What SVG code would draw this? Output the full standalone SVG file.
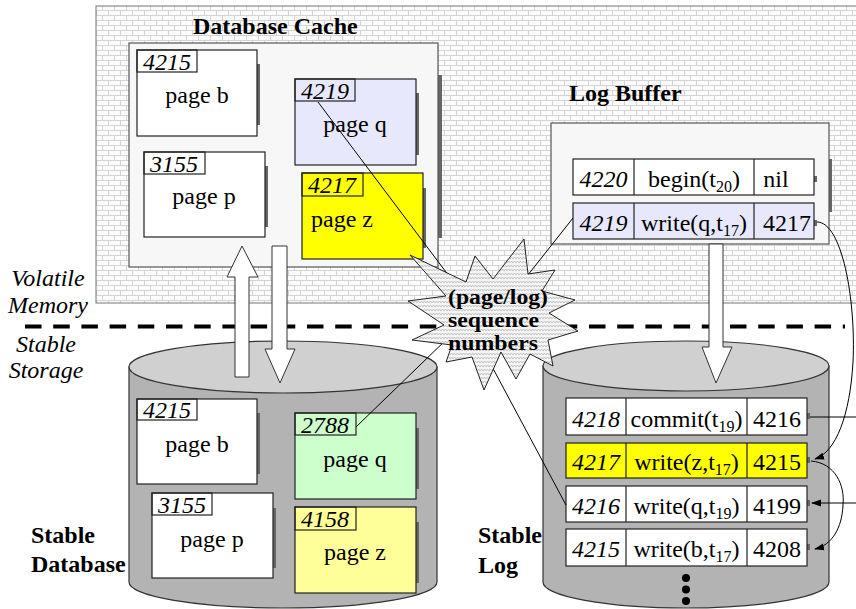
<svg xmlns="http://www.w3.org/2000/svg" width="856" height="609" viewBox="0 0 856 609" font-family="'Liberation Serif', 'Times New Roman', Times, 'DejaVu Serif', serif">
<defs>
<pattern id="brick" width="12" height="10" patternUnits="userSpaceOnUse">
<rect width="12" height="10" fill="#fbfbfb"/>
<path d="M0,0.5H12M0,5.5H12M0.5,0V5.5M6.5,5.5V10" stroke="#d4d4d4" stroke-width="1" fill="none"/>
</pattern>
<pattern id="zig" width="6" height="4" patternUnits="userSpaceOnUse">
<rect width="6" height="4" fill="#f4f4f4"/>
<path d="M0,3 L1.5,1 L3,3 L4.5,1 L6,3" stroke="#b8b8b8" fill="none" stroke-width="0.8"/>
</pattern>
<marker id="ah" markerWidth="10" markerHeight="8" refX="9" refY="4" orient="auto" markerUnits="userSpaceOnUse">
<path d="M0,0.5 L10,4 L0,7.5 Z" fill="#000"/>
</marker>
<style>
.box{stroke:#222;stroke-width:1.2}
.sh{fill:#666}
text{font-family:'Liberation Serif','Times New Roman',Times,'DejaVu Serif',serif}
.t{font-size:24px;fill:#000}
.i{font-style:italic}
.b{font-weight:bold}
.m{text-anchor:middle}
.sub{font-size:16px}
.sb{font-size:20px}
.ln{fill:none;stroke:#000;stroke-width:1}
.blk{fill:#fff;stroke:#333;stroke-width:1}
.cyl{fill:#b3b3b3;stroke:#333;stroke-width:1.2}
.top{fill:#d0d0d0;stroke:#333;stroke-width:1.2}
</style>
</defs>

<!-- Volatile memory area -->
<rect id="volatile-area" x="96" y="6" width="770" height="297" fill="url(#brick)" stroke="#777" stroke-width="1"/>

<!-- Labels -->
<g id="labels">
<text x="48" y="286" class="t i m">Volatile</text>
<text x="48" y="313" class="t i m">Memory</text>
<text x="46" y="352" class="t i m">Stable</text>
<text x="46" y="378" class="t i m">Storage</text>
<text x="31" y="543" class="t b">Stable</text>
<text x="31" y="572" class="t b">Database</text>
<text x="478" y="543" class="t b">Stable</text>
<text x="478" y="573" class="t b">Log</text>
</g>

<!-- Database cache -->
<g id="database-cache">
<rect x="438" y="75" width="4" height="163" class="sh"/>
<rect x="129" y="43" width="309" height="224" fill="#f7f7f7" stroke="#555" stroke-width="1.2"/>
<text x="193" y="34" class="t b">Database Cache</text>
</g>

<g id="cache-page-b">
<rect x="257" y="64" width="3" height="61" class="sh"/>
<rect x="137" y="50" width="120" height="86" fill="#fff" class="box"/>
<rect x="137" y="50" width="60" height="22" fill="none" class="box"/>
<text x="167" y="70" class="t i m">4215</text>
<text x="197" y="103" class="t m">page b</text>
</g>

<g id="cache-page-q">
<rect x="416" y="93" width="3" height="62" class="sh"/>
<rect x="295" y="79" width="121" height="86" fill="#e8e8fc" class="box"/>
<rect x="295" y="79" width="60" height="22" fill="none" class="box"/>
<text x="325" y="99" class="t i m">4219</text>
<text x="355" y="132" class="t m">page q</text>
</g>

<g id="cache-page-p">
<rect x="265" y="166" width="3" height="61" class="sh"/>
<rect x="144" y="152" width="121" height="85" fill="#fff" class="box"/>
<rect x="144" y="152" width="61" height="22" fill="none" class="box"/>
<text x="174" y="172" class="t i m">3155</text>
<text x="204" y="204" class="t m">page p</text>
</g>

<g id="cache-page-z">
<rect x="423" y="188" width="3" height="60" class="sh"/>
<rect x="302" y="173" width="121" height="86" fill="#ffff00" class="box"/>
<rect x="302" y="173" width="61" height="23" fill="none" class="box"/>
<text x="332" y="193" class="t i m">4217</text>
<text x="342" y="227" class="t m">page z</text>
</g>

<!-- Log buffer -->
<g id="log-buffer">
<rect x="829" y="159" width="3" height="53" class="sh"/>
<rect x="551" y="123" width="278" height="121" fill="#f7f7f7" stroke="#555" stroke-width="1.2"/>
<text x="569" y="101" class="t b">Log Buffer</text>
</g>

<g id="logbuf-4220">
<rect x="814" y="176" width="3" height="6" class="sh"/>
<rect x="573" y="159" width="241" height="36" fill="#fff" class="box"/>
<path d="M634,159V195M754,159V195" class="box" fill="none"/>
<text x="603.5" y="187" class="t i m">4220</text>
<text x="694" y="187" class="t m">begin(t<tspan class="sub" dy="5">20</tspan><tspan dy="-5">)</tspan></text>
<text x="776" y="187" class="t m">nil</text>
</g>

<g id="logbuf-4219">
<rect x="814" y="220" width="3" height="6" class="sh"/>
<rect x="573" y="203" width="241" height="36" fill="#e8e8fc" class="box"/>
<path d="M634,203V239M754,203V239" class="box" fill="none"/>
<text x="603.5" y="231" class="t i m">4219</text>
<text x="694" y="231" class="t m">write(q,t<tspan class="sub" dy="5">17</tspan><tspan dy="-5">)</tspan></text>
<text x="787" y="231" class="t m">4217</text>
</g>

<!-- Boundary -->
<line id="boundary" x1="25" y1="326.5" x2="845" y2="326.5" stroke="#000" stroke-width="4" stroke-dasharray="16.5 11.7"/>

<!-- Stable database cylinder -->
<g id="stable-database">
<path d="M129,367 V582 A154,26 0 0 0 437,582 V367 Z" class="cyl"/>
<ellipse cx="283" cy="367" rx="154" ry="26" class="top"/>
</g>

<g id="stable-page-b">
<rect x="257" y="413" width="3" height="61" class="sh"/>
<rect x="137" y="399" width="120" height="85" fill="#fff" class="box"/>
<rect x="137" y="399" width="60" height="21" fill="none" class="box"/>
<text x="167" y="418" class="t i m">4215</text>
<text x="197" y="452" class="t m">page b</text>
</g>

<g id="stable-page-p">
<rect x="273" y="508" width="3" height="60" class="sh"/>
<rect x="152" y="493" width="121" height="85" fill="#fff" class="box"/>
<rect x="152" y="493" width="60" height="22" fill="none" class="box"/>
<text x="182" y="513" class="t i m">3155</text>
<text x="212" y="547" class="t m">page p</text>
</g>

<g id="stable-page-q">
<rect x="416" y="428" width="3" height="61" class="sh"/>
<rect x="295" y="413" width="121" height="86" fill="#ccffcc" class="box"/>
<rect x="295" y="413" width="61" height="22" fill="none" class="box"/>
<text x="325" y="433" class="t i m">2788</text>
<text x="355" y="467" class="t m">page q</text>
</g>

<g id="stable-page-z">
<rect x="416" y="522" width="3" height="61" class="sh"/>
<rect x="295" y="507" width="121" height="86" fill="#ffff99" class="box"/>
<rect x="295" y="507" width="61" height="23" fill="none" class="box"/>
<text x="325" y="527" class="t i m">4158</text>
<text x="355" y="560" class="t m">page z</text>
</g>

<!-- Stable log cylinder -->
<g id="stable-log">
<path d="M543,366 V582 A143,26 0 0 0 829,582 V366 Z" class="cyl"/>
<ellipse cx="686" cy="366" rx="143" ry="25" class="top"/>
<circle cx="686" cy="578" r="4" fill="#000"/>
<circle cx="686" cy="589.5" r="4" fill="#000"/>
<circle cx="686" cy="601" r="4" fill="#000"/>
</g>

<g id="log-4218">
<rect x="807" y="413" width="3" height="6" class="sh"/>
<rect x="566" y="398" width="241" height="37" fill="#fff" class="box"/>
<path d="M626,398V435M747,398V435" class="box" fill="none"/>
<text x="596" y="427" class="t i m">4218</text>
<text x="686.5" y="427" class="t m">commit(t<tspan class="sub" dy="5">19</tspan><tspan dy="-5">)</tspan></text>
<text x="777" y="427" class="t m">4216</text>
</g>

<g id="log-4217">
<rect x="807" y="457" width="3" height="6" class="sh"/>
<rect x="566" y="443" width="241" height="35" fill="#ffff00" class="box"/>
<path d="M626,443V478M747,443V478" class="box" fill="none"/>
<text x="596" y="470" class="t i m">4217</text>
<text x="686.5" y="470" class="t m">write(z,t<tspan class="sub" dy="5">17</tspan><tspan dy="-5">)</tspan></text>
<text x="777" y="470" class="t m">4215</text>
</g>

<g id="log-4216">
<rect x="807" y="500" width="3" height="6" class="sh"/>
<rect x="566" y="486" width="241" height="36" fill="#fff" class="box"/>
<path d="M626,486V522M747,486V522" class="box" fill="none"/>
<text x="596" y="514" class="t i m">4216</text>
<text x="686.5" y="514" class="t m">write(q,t<tspan class="sub" dy="5">19</tspan><tspan dy="-5">)</tspan></text>
<text x="777" y="514" class="t m">4199</text>
</g>

<g id="log-4215">
<rect x="807" y="544" width="3" height="6" class="sh"/>
<rect x="566" y="529" width="241" height="37" fill="#fff" class="box"/>
<path d="M626,529V566M747,529V566" class="box" fill="none"/>
<text x="596" y="557" class="t i m">4215</text>
<text x="686.5" y="557" class="t m">write(b,t<tspan class="sub" dy="5">17</tspan><tspan dy="-5">)</tspan></text>
<text x="777" y="557" class="t m">4208</text>
</g>

<!-- Connectors -->
<g id="connectors">
<line x1="318" y1="102" x2="458" y2="288" class="ln"/>
<line x1="573" y1="218" x2="520" y2="285" class="ln"/>
<line x1="356" y1="427" x2="450" y2="336" class="ln"/>
<line x1="481" y1="346" x2="566" y2="505" class="ln"/>
<path d="M817,222 C842,222 856,300 853,362 C850,415 836,452 815,459" class="ln" marker-end="url(#ah)"/>
<path d="M811,461 C835,463 845,485 843,505 C842,528 832,545 815,549" class="ln" marker-end="url(#ah)"/>
<line x1="810" y1="417" x2="856" y2="417" class="ln"/>
<line x1="856" y1="503" x2="812" y2="503" class="ln" marker-end="url(#ah)"/>
<polygon points="235,377 235,277 227,277 242,246 258,277 249,277 249,377" class="blk"/>
<polygon points="272,246 287,246 287,349 295,349 280,383 265,349 272,349" class="blk"/>
<polygon points="709,244 723,244 723,347 732,347 716,383 702,347 709,347" class="blk"/>
</g>

<!-- Starburst -->
<g id="sequence-numbers">
<polygon points="410,255 466,282 475,256 493,279 524,239 528,274 555,270 542,291 575,300 549,313 578,331 548,340 553,366 530,354 516,379 501,352 484,390 472,357 446,362 452,345 412,340 444,325 408,301 446,296" fill="url(#zig)" stroke="#222" stroke-width="1"/>
<text x="448" y="304" class="sb b" textLength="100" lengthAdjust="spacingAndGlyphs">(page/log)</text>
<text x="448" y="327" class="sb b" textLength="91" lengthAdjust="spacingAndGlyphs">sequence</text>
<text x="448" y="350" class="sb b" textLength="90" lengthAdjust="spacingAndGlyphs">numbers</text>
</g>
</svg>
